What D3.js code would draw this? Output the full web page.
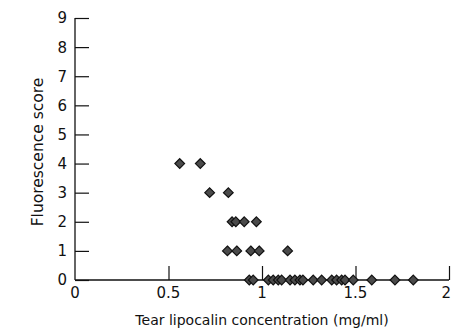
<!DOCTYPE html>
<html>
<head>
<meta charset="utf-8">
<script src="https://cdn.jsdelivr.net/npm/d3@7"></script>
<style>
  html, body { margin: 0; padding: 0; background: #fff; }
  svg { display: block; }
  text { font-family: "DejaVu Sans", sans-serif; fill: #111; }
</style>
</head>
<body>
<div id="chart"></div>
<script>
// Tear lipocalin concentration (mg/ml) against fluorescence score
const score4 = [0.56, 0.67];
const score3 = [0.72, 0.82];
const score2 = [0.84, 0.86, 0.905, 0.97];
const score1 = [0.815, 0.865, 0.94, 0.985, 1.137];
const score0 = [0.932, 0.953, 1.034, 1.06, 1.087, 1.105, 1.15, 1.176, 1.203, 1.219,
                1.274, 1.319, 1.373, 1.399, 1.426, 1.444, 1.488, 1.587, 1.711, 1.809];
const xTicks = [0, 0.5, 1, 1.5, 2];
const xTickLabels = ["0", "0.5", "1", "1.5", "2"];
const yTicks = [0, 1, 2, 3, 4, 5, 6, 7, 8, 9];

const points = [
  ...score4.map(v => ({x: v, y: 4})),
  ...score3.map(v => ({x: v, y: 3})),
  ...score2.map(v => ({x: v, y: 2})),
  ...score1.map(v => ({x: v, y: 1})),
  ...score0.map(v => ({x: v, y: 0}))
];

const W = 452, H = 330;
const svg = d3.select("#chart").append("svg").attr("width", W).attr("height", H);

const x = d3.scaleLinear().domain([0, 2]).range([75, 449]);
const y = d3.scaleLinear().domain([0, 9]).range([280, 18]);

// y axis: ticks pointing inward
const yAxis = svg.append("g").attr("transform", `translate(${x(0)},0)`)
  .call(d3.axisRight(y).tickValues(yTicks).tickSize(14).tickFormat(""));
yAxis.select(".domain").attr("d", `M0,${y(9)}V${y(0)}`).attr("stroke", "#111").attr("stroke-width", 1.3);
yAxis.selectAll(".tick line").attr("stroke", "#111").attr("stroke-width", 1.2);

svg.append("g").selectAll("text").data(yTicks).join("text")
  .attr("x", x(0) - 8).attr("y", d => y(d)).attr("dy", "0.36em")
  .attr("text-anchor", "end").attr("font-size", 15).text(d => d);

// x axis: ticks pointing upward
const xAxis = svg.append("g").attr("transform", `translate(0,${y(0)})`)
  .call(d3.axisTop(x).tickValues(xTicks.slice(1)).tickSize(14).tickFormat(""));
xAxis.select(".domain").attr("d", `M${x(0)},0H${x(2)}`).attr("stroke", "#111").attr("stroke-width", 1.3);
xAxis.selectAll(".tick line").attr("stroke", "#111").attr("stroke-width", 1.2);

// tick labels, kept inside the right edge of the svg
const xLabels = svg.append("g").selectAll("text").data(xTicks).join("text")
  .attr("y", y(0) + 18)
  .attr("text-anchor", "middle").attr("font-size", 15)
  .text((d, i) => xTickLabels[i]);
xLabels.attr("x", function(d) {
  const half = this.getComputedTextLength() / 2;
  return Math.min(x(d), W - half - 1);
});

// axis titles
svg.append("text")
  .attr("transform", `translate(43,152) rotate(-90)`)
  .attr("text-anchor", "middle").attr("font-size", 15.5)
  .text("Fluorescence score");

svg.append("text")
  .attr("x", (x(0) + x(2)) / 2).attr("y", 325)
  .attr("text-anchor", "middle").attr("font-size", 14)
  .text("Tear lipocalin concentration (mg/ml)");

// diamond markers
const diamond = d3.symbol().type(d3.symbolDiamond2).size(60);
svg.append("g").selectAll("path").data(points).join("path")
  .attr("transform", d => `translate(${x(d.x)},${y(d.y)})`)
  .attr("d", diamond)
  .attr("fill", "#4a4a4a").attr("stroke", "#111").attr("stroke-width", 1.2);
</script>
</body>
</html>
